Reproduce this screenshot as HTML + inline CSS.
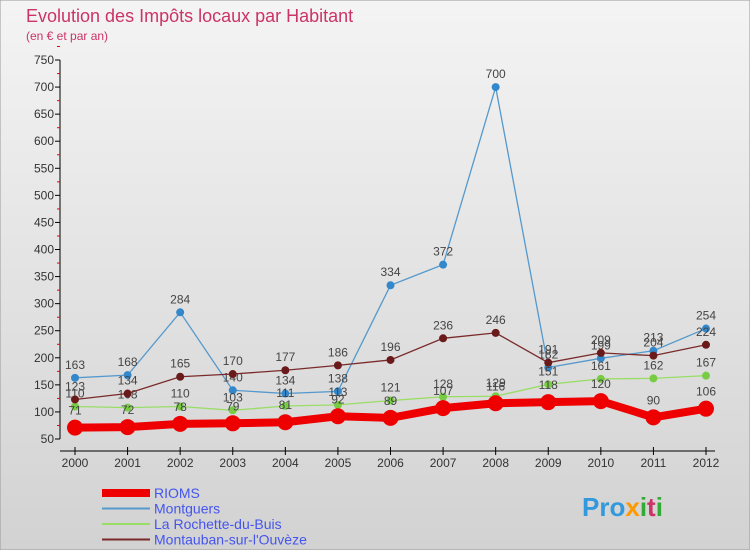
<!DOCTYPE html>
<html><head><meta charset="utf-8"><style>
body{margin:0;width:750px;height:550px;overflow:hidden;font-family:"Liberation Sans",sans-serif}
svg text{font-family:"Liberation Sans",sans-serif}
</style></head><body>
<svg id="c" width="750" height="550" xmlns="http://www.w3.org/2000/svg">
<defs><linearGradient id="bg" x1="0" y1="0" x2="0" y2="1"><stop offset="0" stop-color="#f4f4f4"/><stop offset="1" stop-color="#d2d2d2"/></linearGradient></defs>
<rect width="750" height="550" fill="url(#bg)" stroke="#999"/>
<text x="26" y="22" font-size="18" fill="#cc3366">Evolution des Impôts locaux par Habitant</text>
<text x="26" y="40" font-size="12" fill="#cc3366">(en € et par an)</text>
<g id="axes"></g><g id="series"></g><g id="legend"></g>
<text x="582" y="516" font-size="26" font-weight="bold" fill="#3399dd">Pro<tspan fill="#ff9900">x</tspan><tspan fill="#33aa33">i</tspan><tspan fill="#cc3366">t</tspan><tspan fill="#33aa33">i</tspan></text>
</svg>
<script>
const years=[2000,2001,2002,2003,2004,2005,2006,2007,2008,2009,2010,2011,2012];
const yTicks=[50,100,150,200,250,300,350,400,450,500,550,600,650,700,750];
const montguers=[163,168,284,140,134,138,334,372,700,182,199,213,254];
const montauban=[123,134,165,170,177,186,196,236,246,191,209,204,224];
const rochette=[110,108,110,103,111,113,121,128,129,151,161,162,167];
const rioms=[71,72,78,79,81,92,89,107,116,118,120,90,106];
const NS="http://www.w3.org/2000/svg";
const X=i=>75+i*(706-75)/12, Y=v=>439-(v-50)*(379/700);
function mk(t,a,p){const e=document.createElementNS(NS,t);for(const k in a)e.setAttribute(k,a[k]);p.appendChild(e);return e;}
const ax=document.getElementById('axes');
const yl=mk('line',{x1:60,y1:Y(750),x2:60,y2:Y(50),stroke:'#000'},ax);


const xl=mk('line',{x1:60,y1:451,x2:715,y2:451,stroke:'#000'},ax);


yTicks.forEach(v=>{const y=Y(v);mk('line',{x1:55,y1:y,x2:60,y2:y,stroke:'#000'},ax);
 mk('line',{x1:57,y1:y-13.5,x2:60,y2:y-13.5,stroke:'#e00'},ax);
 const t=mk('text',{x:54,y:y+4,'font-size':12,'text-anchor':'end',fill:'#333'},ax);t.textContent=v;
 
 });
years.forEach((yr,i)=>{mk('line',{x1:X(i),y1:447,x2:X(i),y2:455,stroke:'#000'},ax);
 const t=mk('text',{x:X(i),y:467,'font-size':12,'text-anchor':'middle',fill:'#333'},ax);t.textContent=yr;
 
 });
const sg=document.getElementById('series');
const defs=[{d:montguers,c:'#5599cc',w:1.3,r:4,n:'Montguers',mc:'#3388cc'},
{d:rochette,c:'#99dd66',w:1.3,r:4,n:'La Rochette-du-Buis',mc:'#77cc44'},
{d:montauban,c:'#7a2a2a',w:1.3,r:4,n:'Montauban-sur-l\'Ouvèze',mc:'#6a1a1a'},
{d:rioms,c:'#ee0000',w:8,r:8,n:'RIOMS',mc:'#ee0000'}];
defs.forEach(s=>{const g=mk('g',{},sg);
 
 
 const p=mk('polyline',{points:s.d.map((v,i)=>X(i)+','+Y(v)).join(' '),fill:'none',stroke:s.c,'stroke-width':s.w},g);
 
 
 s.d.forEach((v,i)=>{const c=mk('circle',{cx:X(i),cy:Y(v),r:s.r,fill:s.mc},g);
  
  
  const t=mk('text',{x:X(i),y:Y(v)-(s.r+5),'font-size':12,'text-anchor':'middle',fill:'#444'},g);t.textContent=v;
  
  });});
const lg=document.getElementById('legend');
[{n:'RIOMS',c:'#ee0000',w:8},{n:'Montguers',c:'#5599cc',w:2},{n:'La Rochette-du-Buis',c:'#99dd66',w:2},{n:'Montauban-sur-l\'Ouvèze',c:'#7a2a2a',w:2}].forEach((e,i)=>{
 const y=493+i*15.5;const g=mk('g',{},lg);
 
 
 mk('line',{x1:102,y1:y,x2:150,y2:y,stroke:e.c,'stroke-width':e.w},g);
 const t=mk('text',{x:154,y:y+5,'font-size':14,fill:'#4455ee'},g);t.textContent=e.n;});
</script>
</body></html>
